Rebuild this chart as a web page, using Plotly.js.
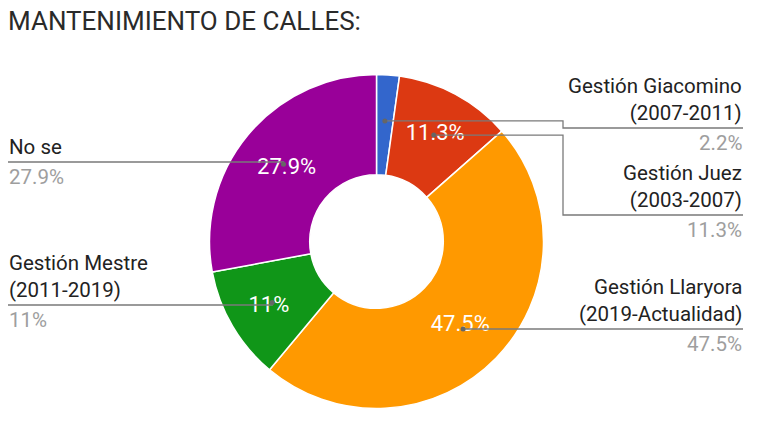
<!DOCTYPE html>
<html><head><meta charset="utf-8">
<script src="https://cdn.plot.ly/plotly-3.0.1.min.js"></script>
<style>html,body{margin:0;padding:0;background:#fff;}#chart{width:767px;height:422px;}</style>
</head><body><div id="chart"></div>
<script>
const categories = ["Gestión Giacomino (2007-2011)", "Gestión Juez (2003-2007)", "Gestión Llaryora (2019-Actualidad)", "Gestión Mestre (2011-2019)", "No se"];
const nameLine1 = ["Gestión Giacomino", "Gestión Juez", "Gestión Llaryora", "Gestión Mestre", "No se"];
const nameLine2 = ["(2007-2011)", "(2003-2007)", "(2019-Actualidad)", "(2011-2019)", ""];
const values = [2.2, 11.3, 47.5, 11, 27.9];
const pctLabels = ["2.2%", "11.3%", "47.5%", "11%", "27.9%"];
const colors = ["#3366cc", "#dc3912", "#ff9900", "#109618", "#990099"];

const W = 767, H = 422;
const cx = 376.5, cy = 241.5, R = 167, hole = 0.40;
const px = x => x / W, py = y => 1 - y / H;
const FONT = "Roboto, Arial, sans-serif";

// in-slice text: hide for tiny slice
const inside = values.map((v, i) => v < 5 ? "" : pctLabels[i]);

// anchor points computed from data (mid-angle, ring middle)
const total = values.reduce((a, b) => a + b, 0);
let cum = 0;
const anchors = values.map(v => {
  const mid = (cum + v / 2) / total; cum += v;
  const ang = mid * 2 * Math.PI;
  const r = R * (1 + hole) / 2 + 4;
  return [cx + r * Math.sin(ang), cy - r * Math.cos(ang)];
});

// label layout (right side / left side)
const side = ["R", "R", "R", "L", "L"];
const lineY = [128, 215, 329, 305, 162];
const elbowX = 563;
const shapes = [], annotations = [];
const lineColor = "#7a7a7a";
values.forEach((v, i) => {
  const [ax, ay0] = anchors[i];
  let ay = ay0;
  if (side[i] === "R") {
    if (Math.abs(ay - lineY[i]) > 6) {
      shapes.push({type: "path", xref: "paper", yref: "paper",
        path: `M ${px(ax)} ${py(ay)} L ${px(elbowX)} ${py(ay)} L ${px(elbowX)} ${py(lineY[i])} L ${px(743)} ${py(lineY[i])}`,
        line: {color: lineColor, width: 1.3}});
    } else {
      ay = lineY[i];
      shapes.push({type: "line", xref: "paper", yref: "paper", x0: px(ax), y0: py(ay), x1: px(743), y1: py(ay),
        line: {color: lineColor, width: 1.3}});
    }
  } else {
    shapes.push({type: "path", xref: "paper", yref: "paper",
      path: `M ${px(ax)} ${py(ay)} L ${px(ax)} ${py(lineY[i])} L ${px(8)} ${py(lineY[i])}`,
      line: {color: lineColor, width: 1.3}});
  }
  shapes.push({type: "circle", xref: "paper", yref: "paper",
    x0: px(ax - 2.5), x1: px(ax + 2.5), y0: py(ay + 2.5), y1: py(ay - 2.5),
    fillcolor: "#666", line: {width: 0}});
  const ly = lineY[i];
  const xr = side[i] === "R" ? px(743) : px(8);
  const xa = side[i] === "R" ? "right" : "left";
  const nameTxt = nameLine2[i] ? nameLine1[i] + "<br>" + nameLine2[i] : nameLine1[i];
  annotations.push({xref: "paper", yref: "paper", x: xr, y: py(ly - 2), xanchor: xa, yanchor: "bottom",
    text: nameTxt, showarrow: false, align: xa, borderpad: 0, font: {family: FONT, size: 20.5, color: "#222"}});
  annotations.push({xref: "paper", yref: "paper", x: xr, y: py(ly + 2), xanchor: xa, yanchor: "top",
    text: pctLabels[i], showarrow: false, align: xa, borderpad: 0, font: {family: FONT, size: 20.5, color: "#9e9e9e"}});
});

const trace = {
  type: "pie", labels: categories, values: values, sort: false, direction: "clockwise", rotation: 0,
  hole: hole, marker: {colors: colors, line: {color: "#ffffff", width: 1.5}},
  text: inside, textinfo: "text", textposition: "inside", insidetextorientation: "horizontal",
  insidetextfont: {family: FONT, size: 22, color: "#ffffff"},
  domain: {x: [px(cx - R), px(cx + R)], y: [py(cy + R), py(cy - R)]},
  showlegend: false, hoverinfo: "label+percent"
};

const layout = {
  width: W, height: H, margin: {l: 0, r: 0, t: 0, b: 0},
  paper_bgcolor: "#ffffff", showlegend: false,
  title: {text: "MANTENIMIENTO DE CALLES:", x: 8 / W, xanchor: "left", y: 1 - 21 / H, yanchor: "middle",
    font: {family: FONT, size: 26, color: "#2a2a2a"}},
  shapes: shapes, annotations: annotations
};
Plotly.newPlot("chart", [trace], layout, {displayModeBar: false, staticPlot: true});
</script></body></html>
